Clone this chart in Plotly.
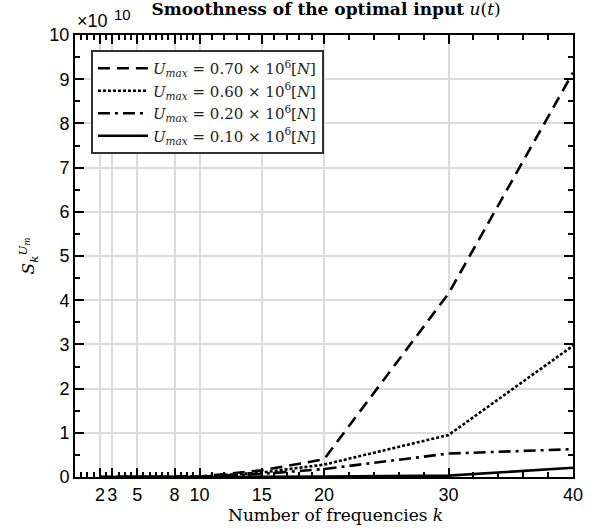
import plotly.graph_objects as go

SCALE = 1e10
k = [2, 3, 5, 8, 10, 15, 20, 30, 40]
s_070 = [0.0, 0.0, 0.001e10, 0.005e10, 0.01e10, 0.15e10, 0.40e10, 4.15e10, 9.15e10]
s_060 = [0.0, 0.0, 0.001e10, 0.004e10, 0.01e10, 0.10e10, 0.28e10, 0.95e10, 2.97e10]
s_020 = [0.0, 0.0, 0.0, 0.002e10, 0.005e10, 0.07e10, 0.18e10, 0.53e10, 0.63e10]
s_010 = [0.0, 0.0, 0.0, 0.0, 0.001e10, 0.005e10, 0.01e10, 0.03e10, 0.21e10]
labels = ["0.70", "0.60", "0.20", "0.10"]
dashes = ["12px,7px", "3px,2px", "12px,5px,3px,5px", "solid"]
series = [s_070, s_060, s_020, s_010]
xticks = [2, 3, 5, 8, 10, 15, 20, 30, 40]
yticks = list(range(0, 11))

serif = "DejaVu Serif, serif"
sans = "Liberation Sans, Arial, sans-serif"

fig = go.Figure()
for lab, dsh, s in zip(labels, dashes, series):
    fig.add_trace(go.Scatter(
        x=k, y=[v / SCALE for v in s], mode="lines",
        line=dict(color="black", width=2.6, dash=dsh),
        name=f"<i>U<sub>max</sub></i> = {lab} × 10<sup>6</sup>[<i>N</i>]",
    ))

minor_x = [i * 0.5 for i in range(1, 20)] + list(range(11, 20)) + list(range(22, 40, 2))

fig.update_layout(
    width=595, height=529,
    margin=dict(l=75, r=15, t=35, b=52),
    plot_bgcolor="white", paper_bgcolor="white",
    title=dict(text="<b>Smoothness of the optimal input</b> <i>u</i>(<i>t</i>)",
               x=0.548, xanchor="center", y=0.995, yanchor="top",
               font=dict(family=serif, size=17, color="black")),
    legend=dict(x=0.032, y=0.966, xanchor="left", yanchor="top",
                bgcolor="white", bordercolor="#333333", borderwidth=2,
                font=dict(family=serif, size=15, color="#222"),
                itemwidth=50, tracegroupgap=0),
    showlegend=True,
)
fig.update_xaxes(
    range=[0, 40], tickmode="array", tickvals=xticks,
    ticktext=[str(t) for t in xticks],
    showgrid=True, gridcolor="#dcdcdc", gridwidth=2,
    showline=True, linecolor="black", linewidth=2, mirror="allticks",
    ticks="inside", ticklen=9, tickwidth=2, tickcolor="black",
    minor=dict(tickmode="array", tickvals=minor_x, ticks="inside", ticklen=5,
               tickwidth=2, tickcolor="black", showgrid=False),
    tickfont=dict(family=sans, size=18, color="black"),
    zeroline=False,
)
fig.update_yaxes(
    range=[0, 10], tickmode="array", tickvals=yticks,
    ticktext=[str(t) for t in yticks],
    showgrid=True, gridcolor="#dcdcdc", gridwidth=2,
    showline=True, linecolor="black", linewidth=2, mirror="allticks",
    ticks="inside", ticklen=9, tickwidth=2, tickcolor="black",
    minor=dict(dtick=0.5, ticks="inside", ticklen=5, tickwidth=2,
               tickcolor="black", showgrid=False),
    tickfont=dict(family=sans, size=18, color="black"),
    title=dict(text="<i>S</i><sub><i>k</i></sub><sup><i>U<sub>m</sub></i></sup>",
               font=dict(family=serif, size=17, color="black"), standoff=10),
    zeroline=False,
)
fig.add_annotation(xref="paper", yref="paper", x=0.523, y=0.0, xanchor="center",
                   yanchor="top", showarrow=False, yshift=-26,
                   text="Number of frequencies <i>k</i>",
                   font=dict(family=serif, size=17, color="black"))
fig.add_annotation(xref="paper", yref="paper", x=0.0, y=1.0, xanchor="left",
                   yanchor="bottom", showarrow=False, xshift=0, yshift=2,
                   text="×10", font=dict(family=sans, size=18, color="black"))
fig.add_annotation(xref="paper", yref="paper", x=0.074, y=1.0, xanchor="left",
                   yanchor="bottom", showarrow=False, yshift=10,
                   text="10", font=dict(family=sans, size=15, color="black"))
fig.write_html("out.html", config={"displayModeBar": False},
               post_script="document.body.style.margin='0px';")
